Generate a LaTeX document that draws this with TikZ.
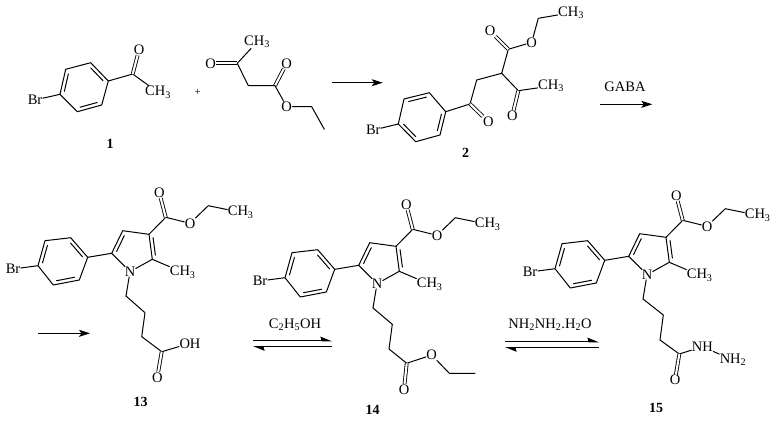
\documentclass[tikz,border=0pt]{standalone}
\usepackage{fontspec}
\setmainfont{Liberation Serif}
\usetikzlibrary{calc,arrows.meta}
\tikzset{
  atom/.style={inner sep=0.3pt,font=\fontsize{14.5}{16}\selectfont},
  txt/.style={inner sep=0pt,font=\fontsize{14.5}{16}\selectfont},
  lbl/.style={inner sep=0pt,font=\fontsize{14}{16}\selectfont\bfseries},
  bond/.style={line width=1pt,line cap=round,line join=round},
  dbond/.style={line width=0.85pt,double,double distance=2.1pt},
  rxn/.style={line width=1pt,-{Stealth[length=11pt,width=7pt,inset=2.5pt]}},
  eqm/.style={line width=1.2pt,-{Stealth[harpoon,length=10pt,width=8pt,inset=1pt]}}
}
\newcommand{\sbs}[1]{\textsubscript{#1}}
% inner line of a ring double bond, on the side given by an angle
\newcommand{\inb}[3]{\draw[bond] ($(#1)!.15!(#2)!3.6pt!#3:(#2)$) -- ($(#2)!.15!(#1)!3.6pt!-#3:(#1)$);}
% common aryl-pyrrole-ester part
\newcommand{\pyrcore}[3]{%
\begin{scope}[shift={(#2,#3)},name prefix=#1]
  \node[atom] (br) at (13,269) {Br};
  \coordinate (r1) at (38,265.7); \coordinate (r2) at (45,240.7);
  \coordinate (r3) at (70.7,237.7); \coordinate (r4) at (87.7,257.3);
  \coordinate (r5) at (79.3,280); \coordinate (r6) at (53.3,285);
  \coordinate (c5) at (111.7,253.3); \coordinate (c4) at (122.7,230.7);
  \coordinate (c3) at (149,234.3); \coordinate (c2) at (152.3,259.3);
  \node[atom] (n) at (130,271.7) {N};
  \coordinate (ce) at (165.7,217.3);
  \node[atom] (o1) at (159.3,192.7) {O};
  \node[atom] (o2) at (190,223.3) {O};
  \coordinate (et) at (208.3,205.7);
  \node[atom] (me2) at (240.7,212.3) {CH\sbs{3}};
  \node[atom] (me) at (182.7,272.3) {CH\sbs{3}};
  \coordinate (ch1) at (126,296);
  \draw[bond] (br)--(r1)--(r2)--(r3)--(r4)--(r5)--(r6)--(r1);
  \inb{r1}{r2}{-90}\inb{r3}{r4}{-90}\inb{r5}{r6}{-90}
  \draw[bond] (r4)--(c5)--(c4)--(c3)--(c2);
  \draw[bond] (c5)--(n)--(c2);
  \inb{c5}{c4}{-90}\inb{c3}{c2}{90}
  \draw[bond] (c3)--(ce)--(o2)--(et)--(me2);
  \draw[dbond] (ce)--(o1);
  \draw[bond] (c2)--(me);
  \draw[bond] (n)--(ch1);
\end{scope}}
\begin{document}
\begin{tikzpicture}[x=1pt,y=-1pt]
\useasboundingbox (0,0) rectangle (776,421);
% compound 1
\node[atom] (a-br) at (35,100) {Br};
\coordinate (a1) at (60,94.3); \coordinate (a2) at (65.7,69.3);
\coordinate (a3) at (90.7,62.7); \coordinate (a4) at (108.3,81);
\coordinate (a5) at (101.7,105); \coordinate (a6) at (77.3,111.7);
\coordinate (a-c) at (132.7,74);
\node[atom] (a-o) at (139,50) {O};
\node[atom] (a-me) at (158,92.3) {CH\sbs{3}};
\draw[bond] (a-br)--(a1)--(a2)--(a3)--(a4)--(a5)--(a6)--(a1);
\inb{a1}{a2}{-90}\inb{a3}{a4}{-90}\inb{a5}{a6}{-90}
\draw[bond] (a4)--(a-c)--(a-me);
\draw[dbond] (a-c)--(a-o);
\node[lbl] (lab1) at (110,144.3) {1};
\node[inner sep=0pt,font=\fontsize{11}{12}\selectfont] (plus) at (197.7,92.3) {+};
% ethyl acetoacetate
\node[atom] (b-o1) at (210.7,63.3) {O};
\coordinate (b-c1) at (237.3,63.3);
\node[atom] (b-me) at (257,42) {CH\sbs{3}};
\coordinate (b-ch) at (248.3,85.7);
\coordinate (b-c2) at (275,85.7);
\node[atom] (b-o2) at (286.7,63.3) {O};
\node[atom] (b-o3) at (286.7,106.7) {O};
\coordinate (b-et) at (311.7,106.7);
\coordinate (b-end) at (324.3,129.3);
\draw[dbond] (b-c1)--(b-o1);
\draw[dbond] (b-c2)--(b-o2);
\draw[bond] (b-me)--(b-c1)--(b-ch)--(b-c2)--(b-o3)--(b-et)--(b-end);
% compound 2
\node[atom] (c-br) at (373.3,130) {Br};
\coordinate (c1) at (398.3,124); \coordinate (c2) at (404,99);
\coordinate (c3) at (429.3,92.7); \coordinate (c4) at (445.7,111.7);
\coordinate (c5) at (440,135); \coordinate (c6) at (415.7,141.7);
\coordinate (c-k) at (470,104);
\node[atom] (c-ok) at (488.3,121.7) {O};
\coordinate (c-ch2) at (476.7,80);
\coordinate (c-ch) at (501.7,73.3);
\coordinate (c-e) at (508.3,49.3);
\node[atom] (c-o1) at (490,31) {O};
\node[atom] (c-o2) at (531.7,42.3) {O};
\coordinate (c-et) at (538.3,18.3);
\node[atom] (c-me2) at (571,12.7) {CH\sbs{3}};
\coordinate (c-ac) at (518.3,90.7);
\node[atom] (c-me) at (551,86) {CH\sbs{3}};
\node[atom] (c-oa) at (512.3,115.7) {O};
\draw[bond] (c-br)--(c1)--(c2)--(c3)--(c4)--(c5)--(c6)--(c1);
\inb{c2}{c3}{-90}\inb{c4}{c5}{-90}\inb{c6}{c1}{-90}
\draw[bond] (c4)--(c-k)--(c-ch2)--(c-ch)--(c-e)--(c-o2)--(c-et)--(c-me2);
\draw[bond] (c-ch)--(c-ac)--(c-me);
\draw[dbond] (c-k)--(c-ok);
\draw[dbond] (c-e)--(c-o1);
\draw[dbond] (c-ac)--(c-oa);
\node[lbl] (lab2) at (465.7,152.7) {2};
% top arrows
\coordinate (ar1s) at (331.7,82.7); \coordinate (ar1e) at (382.7,82.7);
\draw[rxn] (ar1s)--(ar1e);
\node[txt] (gaba) at (625,86.7) {GABA};
\coordinate (ar2s) at (600,104.3); \coordinate (ar2e) at (652.3,104.3);
\draw[rxn] (ar2s)--(ar2e);
% compound 13
\pyrcore{p-}{0}{0}
\coordinate (p1) at (145,312.7); \coordinate (p2) at (141.7,336.7);
\coordinate (p3) at (161.7,351.7);
\node[atom] (p-o) at (157.3,377.3) {O};
\node[atom] (p-oh) at (190,343.3) {OH};
\draw[bond] (p-ch1)--(p1)--(p2)--(p3)--(p-oh);
\draw[dbond] (p3)--(p-o);
\node[lbl] (lab13) at (140.7,402.3) {13};
\coordinate (ar3s) at (38.3,333.3); \coordinate (ar3e) at (90,333.3);
\draw[rxn] (ar3s)--(ar3e);
% compound 14
\pyrcore{q-}{247}{12}
\coordinate (q1) at (392.3,324.3); \coordinate (q2) at (389,349);
\coordinate (q3) at (406.7,363.3);
\node[atom] (q-o) at (404,389.3) {O};
\node[atom] (q-o2) at (431.7,355) {O};
\coordinate (q-et) at (449.3,373.3); \coordinate (q-end) at (475,373.3);
\draw[bond] (q-ch1)--(q1)--(q2)--(q3)--(q-o2)--(q-et)--(q-end);
\draw[dbond] (q3)--(q-o);
\node[lbl] (lab14) at (372.7,410) {14};
% compound 15
\pyrcore{s-}{517}{3}
\coordinate (s1) at (663.3,315); \coordinate (s2) at (660,340);
\coordinate (s3) at (679.3,354);
\node[atom] (s-o) at (675,380) {O};
\node[atom] (s-nh) at (702.3,346.7) {NH};
\node[atom] (s-nh2) at (733,360) {NH\sbs{2}};
\draw[bond] (s-ch1)--(s1)--(s2)--(s3)--(s-nh)--(s-nh2);
\draw[dbond] (s3)--(s-o);
\node[lbl] (lab15) at (656,408.3) {15};
% equilibria
\node[txt] (eq1t) at (295,325) {C\sbs{2}H\sbs{5}OH};
\coordinate (e1a) at (253,340.7); \coordinate (e1b) at (332,340.7);
\coordinate (e1c) at (332,346.7); \coordinate (e1d) at (253,346.7);
\draw[eqm] (e1a)--(e1b);
\draw[eqm] (e1c)--(e1d);
\node[txt] (eq2t) at (550,325) {NH\sbs{2}NH\sbs{2}.H\sbs{2}O};
\coordinate (e2a) at (505,341.7); \coordinate (e2b) at (599,341.7);
\coordinate (e2c) at (599,347.7); \coordinate (e2d) at (505,347.7);
\draw[eqm] (e2a)--(e2b);
\draw[eqm] (e2c)--(e2d);
\end{tikzpicture}
\end{document}
